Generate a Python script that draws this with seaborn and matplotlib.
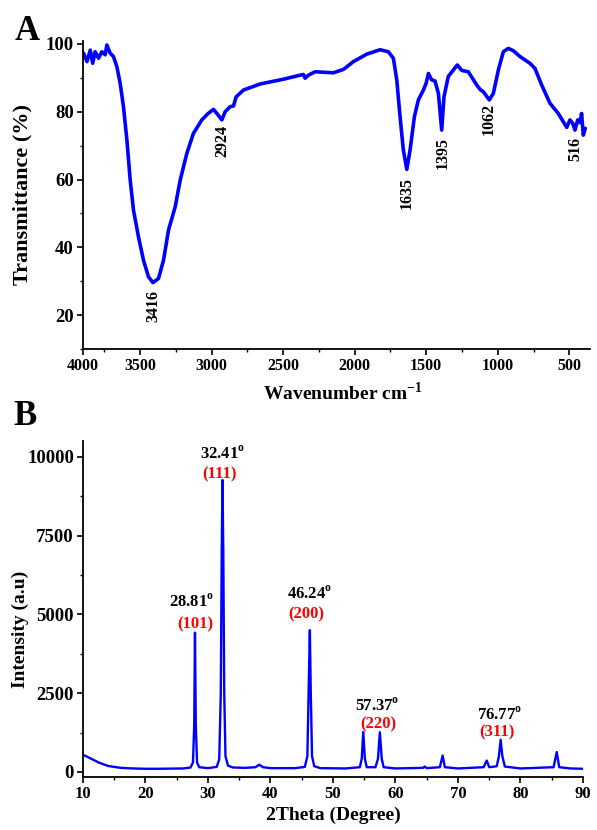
import numpy as np
import pandas as pd
import seaborn as sns
import matplotlib
matplotlib.use("Agg")
import matplotlib.pyplot as plt
from matplotlib.ticker import MultipleLocator

# ---- FTIR spectrum (panel A) ----
ftir_wavenumber = [3896, 3872, 3849, 3832, 3815, 3791, 3768, 3745, 3733, 3710,
                   3687, 3663, 3640, 3617, 3593, 3570, 3547, 3512, 3477, 3442,
                   3411, 3372, 3337, 3302, 3255, 3220, 3174, 3128, 3069, 3030,
                   2988, 2964, 2929, 2906, 2871, 2848, 2829, 2778, 2661, 2499,
                   2382, 2359, 2347, 2324, 2277, 2149, 2079, 2009, 1916, 1823,
                   1765, 1730, 1706, 1683, 1660, 1636, 1613, 1583, 1555, 1520,
                   1501, 1485, 1462, 1439, 1415, 1392, 1376, 1346, 1311, 1283,
                   1252, 1206, 1147, 1124, 1101, 1059, 1031, 996, 961, 926,
                   891, 845, 775, 740, 693, 635, 577, 518, 495, 476,
                   460, 441, 425, 414, 402, 388]
ftir_transmittance = [97.3, 94.8, 98.2, 94.3, 97.7, 95.8, 97.7, 96.8, 99.7, 97.3,
                      96.3, 93.3, 88.4, 81.5, 71.7, 59.9, 51.0, 43.1, 36.2, 31.3,
                      29.6, 30.8, 36.2, 45.1, 52.0, 59.9, 67.7, 73.6, 77.6, 79.3,
                      80.7, 79.5, 77.6, 80.0, 81.5, 81.7, 84.4, 86.4, 88.2, 89.6,
                      90.8, 91.0, 89.9, 90.8, 91.8, 91.5, 92.5, 94.8, 97.0, 98.3,
                      97.7, 95.8, 89.4, 78.5, 68.7, 63.0, 68.7, 78.5, 83.5, 86.4,
                      88.4, 91.3, 89.4, 89.1, 85.4, 74.6, 84.4, 90.4, 92.3, 93.8,
                      92.2, 91.8, 87.9, 86.6, 85.9, 83.5, 85.4, 92.3, 97.7, 98.7,
                      98.0, 96.3, 94.3, 92.8, 87.9, 82.5, 79.5, 75.4, 77.6, 76.6,
                      74.6, 77.6, 76.8, 79.5, 73.1, 75.1]

# band labels: text, x, top of text (y)
ftir_labels = ["3416", "2924", "1635", "1395", "1062", "516"]
ftir_label_x = [3411, 2925, 1636, 1388, 1066, 460]
ftir_label_y = [27.4, 76.1, 60.8, 72.6, 82.5, 72.6]

# ---- XRD pattern (panel B) ----
xrd_2theta = [10, 10.5, 11.5, 12.5, 14, 16, 18, 20, 22, 24, 26, 27.2, 27.6, 27.8,
              27.92, 28.05, 28.25, 28.6, 30, 31.4, 31.8, 32.05, 32.2, 32.32, 32.45,
              32.6, 32.8, 33.2, 34, 36, 37.6, 38.2, 38.8, 40, 44, 45.5, 45.9, 46.1,
              46.3, 46.45, 46.65, 47, 48, 52, 54.3, 54.6, 54.85, 55.1, 55.4, 56.8,
              57.2, 57.5, 57.8, 58.1, 60, 64.4, 64.7, 65, 67.1, 67.55, 67.9, 70,
              74.1, 74.6, 75.0, 76.2, 76.55, 76.83, 77.1, 77.5, 80, 85.3, 85.8,
              86.2, 88, 90]
xrd_intensity = [540, 500, 400, 300, 190, 130, 110, 100, 100, 105, 110, 140, 300, 1500,
                 4420, 1500, 300, 150, 120, 160, 400, 2500, 7000, 9270, 7000,
                 2500, 500, 200, 140, 130, 150, 230, 150, 120, 120, 160, 500, 2500,
                 4500, 2500, 500, 180, 120, 110, 150, 420, 1270, 420, 150, 150,
                 420, 1260, 420, 150, 110, 130, 170, 120, 150, 520, 150, 110,
                 150, 360, 150, 180, 500, 1020, 500, 170, 110, 150, 630,
                 150, 110, 100]

xrd_angles = ["28.81", "32.41", "46.24", "57.37", "76.77"]
xrd_angle_x = [27.4, 32.3, 46.3, 57.1, 76.6]
xrd_angle_y = [5400, 10095, 5650, 2095, 1810]
xrd_hkl = ["(101)", "(111)", "(200)", "(220)", "(311)"]
xrd_hkl_x = [27.9, 31.8, 45.7, 57.2, 76.3]
xrd_hkl_y = [4670, 9460, 4990, 1520, 1270]

sns.set_theme(style="ticks")
plt.rcParams["font.family"] = ["Liberation Serif", "DejaVu Serif"]
plt.rcParams["font.weight"] = "bold"
plt.rcParams["axes.labelweight"] = "bold"
plt.rcParams["mathtext.fontset"] = "custom"
plt.rcParams["mathtext.rm"] = "Liberation Serif:bold"
plt.rcParams["mathtext.bf"] = "Liberation Serif:bold"
plt.rcParams["axes.linewidth"] = 1.3
for key in ["text.color", "axes.labelcolor", "axes.edgecolor",
            "xtick.color", "ytick.color", "xtick.labelcolor", "ytick.labelcolor"]:
    plt.rcParams[key] = "black"

fig = plt.figure(figsize=(5.97, 8.30), dpi=100)
ax_a = fig.add_axes([0.1390, 0.5795, 0.8493, 0.3716])
ax_b = fig.add_axes([0.1390, 0.0639, 0.8375, 0.4045])

df_ftir = pd.DataFrame({"wn": ftir_wavenumber, "T": ftir_transmittance})
sns.lineplot(data=df_ftir, x="wn", y="T", ax=ax_a, color="#0000ff",
             linewidth=2.6, estimator=None, sort=False)

df_xrd = pd.DataFrame({"tt": xrd_2theta, "I": xrd_intensity})
sns.lineplot(data=df_xrd, x="tt", y="I", ax=ax_b, color="#0000ff",
             linewidth=1.7, estimator=None, sort=False)

for ax in (ax_a, ax_b):
    sns.despine(ax=ax)
    ax.tick_params(which="major", direction="out", length=4.5, width=1.2,
                   colors="black", pad=2)
    ax.tick_params(which="minor", direction="out", length=2.5, width=1.0,
                   colors="black")

# panel A axes: the reference's left edge sits ~3900 but carries the "4000" label
ax_a.set_xlim(3900, 355)
ax_a.set_ylim(10, 101)
ax_a.set_xticks([3900, 3500, 3000, 2500, 2000, 1500, 1000, 500])
ax_a.set_xticklabels(["4000", "3500", "3000", "2500", "2000", "1500", "1000", "500"],
                     fontsize=11.5, fontweight="bold")
ax_a.xaxis.set_minor_locator(MultipleLocator(250))
ax_a.set_yticks([20, 40, 60, 80, 100])
ax_a.set_yticklabels(["20", "40", "60", "80", "100"], fontsize=13.5, fontweight="bold")
ax_a.yaxis.set_minor_locator(MultipleLocator(10))
ax_a.set_xlabel(r"Wavenumber cm$^{\mathbf{-1}}$", fontsize=14, fontweight="bold")
ax_a.set_ylabel("Transmittance (%)", fontsize=16, fontweight="bold")
ax_a.xaxis.set_label_coords(0.513, -0.105)
ax_a.yaxis.set_label_coords(-0.1, 0.5)

for txt, x, y in zip(ftir_labels, ftir_label_x, ftir_label_y):
    ax_a.text(x, y, txt, rotation=90, ha="center", va="top",
              fontsize=11.5, fontweight="bold", color="black")

# panel B axes
ax_b.set_xlim(10, 90)
ax_b.set_ylim(-160, 10500)
ax_b.set_xticks([10, 20, 30, 40, 50, 60, 70, 80, 90])
ax_b.set_xticklabels([str(v) for v in [10, 20, 30, 40, 50, 60, 70, 80, 90]],
                     fontsize=12, fontweight="bold")
ax_b.xaxis.set_minor_locator(MultipleLocator(5))
ax_b.set_yticks([0, 2500, 5000, 7500, 10000])
ax_b.set_yticklabels(["0", "2500", "5000", "7500", "10000"], fontsize=13.5,
                     fontweight="bold")
ax_b.yaxis.set_minor_locator(MultipleLocator(1250))
ax_b.set_xlabel("2Theta (Degree)", fontsize=14, fontweight="bold")
ax_b.set_ylabel("Intensity (a.u)", fontsize=14, fontweight="bold")
ax_b.xaxis.set_label_coords(0.501, -0.089)
ax_b.yaxis.set_label_coords(-0.108, 0.44)

for txt, x, y in zip(xrd_angles, xrd_angle_x, xrd_angle_y):
    ax_b.text(x, y, txt + r"$^{\mathbf{o}}$", ha="center", va="center",
              fontsize=12, fontweight="bold", color="black")
for txt, x, y in zip(xrd_hkl, xrd_hkl_x, xrd_hkl_y):
    ax_b.text(x, y, txt, ha="center", va="center",
              fontsize=12, fontweight="bold", color="#ff0000")

fig.text(15 / 597, 1 - 40 / 830, "A", fontsize=25, fontweight="bold",
         ha="left", va="baseline", color="black")
fig.text(13 / 597, 1 - 425 / 830, "B", fontsize=25, fontweight="bold",
         ha="left", va="baseline", color="black")

fig.savefig("out.png", dpi=100)
